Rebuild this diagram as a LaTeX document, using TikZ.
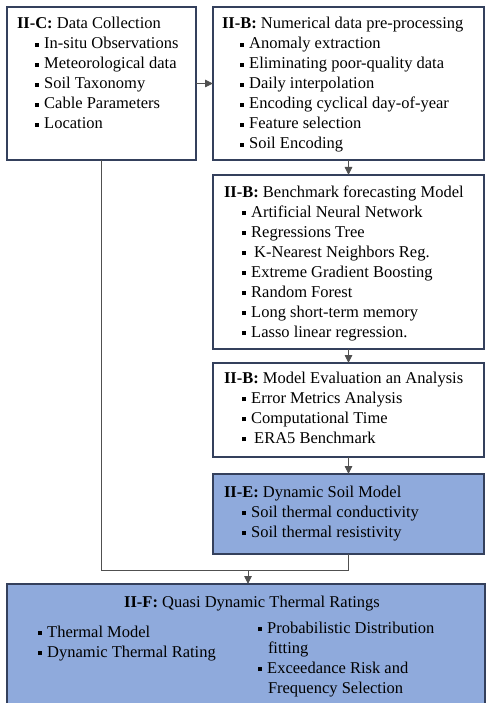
\documentclass[tikz,border=0pt]{standalone}
\usepackage{fontspec}
\setmainfont{Liberation Serif}
\usetikzlibrary{arrows.meta}
\definecolor{bordercol}{RGB}{52,64,92}
\definecolor{fillblue}{RGB}{143,170,220}
\definecolor{linecol}{RGB}{80,80,80}
\newcommand{\bulsq}{\rule[2pt]{4.2pt}{4.2pt}\hspace{5pt}}
\newcommand{\bul}{\hspace*{18pt}\bulsq}
\newcommand{\fstrut}{\rule{0pt}{12pt}}
\tikzset{
  box/.style={draw=bordercol, line width=1.3pt, fill=white, rectangle, inner sep=0, outer sep=0, anchor=north west},
  bluebox/.style={box, fill=fillblue},
  txt/.style={inner sep=0, outer sep=0, anchor=north west, align=left, font=\fontsize{16.5}{20}\selectfont},
  conn/.style={draw=linecol, line width=0.9pt},
  arr/.style={conn, -{Triangle[width=7.5pt,length=8pt]}}
}
\begin{document}
\begin{tikzpicture}[x=1pt,y=-1pt]
\useasboundingbox (0,0) rectangle (486,703);
% boxes
\node[box, minimum width=189pt, minimum height=153pt] (A) at (7,7) {};
\node[box, minimum width=271pt, minimum height=153pt] (B) at (213,7) {};
\node[box, minimum width=271pt, minimum height=174pt] (C) at (213,175) {};
\node[box, minimum width=271pt, minimum height=94pt] (D) at (213,363) {};
\node[bluebox, minimum width=271pt, minimum height=80pt] (E) at (213,474) {};
\node[bluebox, minimum width=478pt, minimum height=125pt] (F) at (7,584) {};
% texts
\node[txt] (tA) at (17,17) {\fstrut\textbf{II-C:} Data Collection\\
\bul In-situ Observations\\
\bul Meteorological data\\
\bul Soil Taxonomy\\
\bul Cable Parameters\\
\bul Location};
\node[txt] (tB) at (222,17) {\fstrut\textbf{II-B:} Numerical data pre-processing\\
\bul Anomaly extraction\\
\bul Eliminating poor-quality data\\
\bul Daily interpolation\\
\bul Encoding cyclical day-of-year\\
\bul Feature selection\\
\bul Soil Encoding};
\node[txt] (tC) at (224,185) {\fstrut\textbf{II-B:} Benchmark forecasting Model\\
\bul Artificial Neural Network\\
\bul Regressions Tree\\
\bul\hspace{3pt}K-Nearest Neighbors Reg.\\
\bul Extreme Gradient Boosting\\
\bul Random Forest\\
\bul Long short-term memory\\
\bul Lasso linear regression.};
\node[txt] (tD) at (224,371) {\fstrut\textbf{II-B:} Model Evaluation an Analysis\\
\bul Error Metrics Analysis\\
\bul Computational Time\\
\bul\hspace{3pt}ERA5 Benchmark};
\node[txt] (tE) at (224,485) {\fstrut\textbf{II-E:} Dynamic Soil Model\\
\bul Soil thermal conductivity\\
\bul Soil thermal resistivity};
\node[txt, anchor=base] (tF) at (252,607) {\textbf{II-F:} Quasi Dynamic Thermal Ratings};
\node[txt] (tFl) at (38,625) {\fstrut\bulsq Thermal Model\\
\bulsq Dynamic Thermal Rating};
\node[txt] (tFr) at (258,621) {\fstrut\bulsq Probabilistic Distribution\\
\hspace*{10pt}fitting\\
\bulsq Exceedance Risk and\\
\hspace*{10pt}Frequency Selection};
% connectors
\coordinate (m) at (248,570);
\draw[arr] (A.east) -- (B.west);
\draw[arr] (B.south) -- (C.north);
\draw[arr] (C.south) -- (D.north);
\draw[arr] (D.south) -- (E.north);
\draw[conn] (A.south) |- (m);
\draw[conn] (E.south) |- (m);
\draw[arr] (m) -- (m |- F.north);
\end{tikzpicture}
\end{document}
